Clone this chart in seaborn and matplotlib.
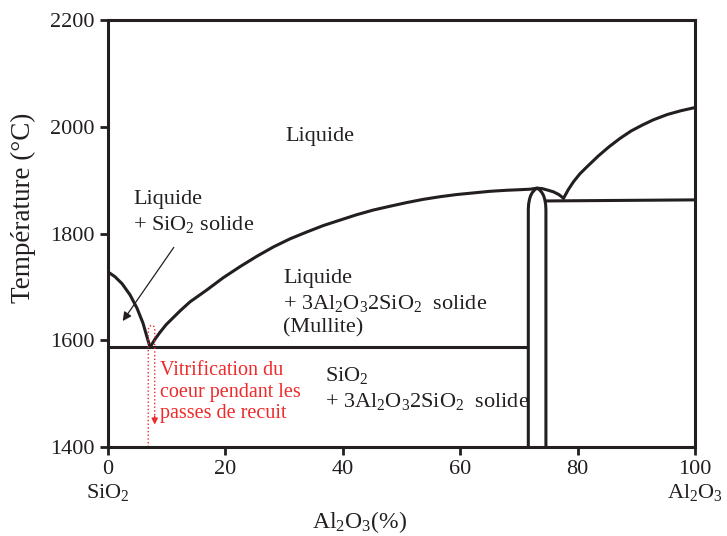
import seaborn as sns
import matplotlib.pyplot as plt
import pandas as pd
import numpy as np

# Diagramme de phase SiO2 - Al2O3
sio2_liq_x = [0.0, 1.19, 2.39, 3.75, 4.94, 5.96, 6.64, 7.16]
sio2_liq_t = [1728, 1719, 1706, 1685, 1660, 1632, 1606, 1587]

mullite_liq_x = [7.16, 8.0, 8.86, 9.88, 11.07, 12.27, 13.97, 16.8, 19.6, 22.5, 25.3, 28.2, 31.0,
                 33.9, 36.7, 39.5, 42.3, 45.2, 48.0, 50.9, 53.7, 56.6, 59.4, 62.2, 65.0, 67.9,
                 70.0, 71.9, 72.5, 73.1, 74.0, 75.0, 75.9, 76.8, 77.6]
mullite_liq_t = [1587, 1602, 1615, 1629, 1642, 1655, 1672, 1694, 1717, 1738, 1757, 1775, 1790,
                 1803, 1815, 1825, 1835, 1844, 1851, 1858, 1864, 1869, 1873, 1876, 1879, 1881,
                 1882, 1883, 1884, 1885, 1884, 1881, 1878, 1873, 1866]

alumina_liq_x = [77.6, 78.4, 79.3, 80.4, 81.6, 83.5, 85.3, 87.2, 89.1, 91.0, 92.9, 95.3, 97.6, 100.0]
alumina_liq_t = [1866, 1882, 1897, 1912, 1925, 1945, 1962, 1978, 1992, 2003, 2013, 2023, 2030, 2036]

eutectic_x = [0.0, 71.4]
eutectic_t = [1587, 1587]

high_eut_x = [74.6, 100.0]
high_eut_t = [1861, 1863]

mullite_ss_x = [71.6, 71.6, 71.65, 71.8, 72.0, 72.3, 72.7, 73.1, 73.5, 73.9, 74.2, 74.4, 74.55,
                74.6, 74.6]
mullite_ss_t = [1400, 1845, 1855, 1864, 1871, 1877, 1882, 1885, 1882, 1877, 1871, 1864, 1855,
                1845, 1400]

red_x = [6.85, 6.85, 7.0, 7.4, 7.8, 7.95, 7.95]
red_t = [1400, 1620, 1626, 1628, 1626, 1620, 1455]

x_ticks = [0, 20, 40, 60, 80, 100]
y_ticks = [1400, 1600, 1800, 2000, 2200]

sns.set_theme(style='ticks')
plt.rcParams['font.family'] = ['Liberation Serif', 'DejaVu Serif']
plt.rcParams['mathtext.fontset'] = 'custom'
plt.rcParams['mathtext.rm'] = 'Liberation Serif'
plt.rcParams['mathtext.it'] = 'Liberation Serif:italic'

INK = '#231f20'
RED = '#ee2a2a'

fig = plt.figure(figsize=(7.27, 5.36), dpi=100)
ax = fig.add_axes([0.1486, 0.166, 0.8074, 0.7967])

courbes = [
    (sio2_liq_x, sio2_liq_t),
    (mullite_liq_x, mullite_liq_t),
    (alumina_liq_x, alumina_liq_t),
    (eutectic_x, eutectic_t),
    (high_eut_x, high_eut_t),
    (mullite_ss_x, mullite_ss_t),
]
for xs, ts in courbes:
    df = pd.DataFrame({'x': xs, 't': ts})
    sns.lineplot(data=df, x='x', y='t', sort=False, estimator=None,
                 color=INK, lw=2.2, ax=ax)

# zone rouge en pointillés (vitrification)
df_red = pd.DataFrame({'x': red_x, 't': red_t})
sns.lineplot(data=df_red, x='x', y='t', sort=False, estimator=None,
             color=RED, lw=1.0, linestyle=':', ax=ax)
ax.annotate('', xy=(7.95, 1442), xytext=(7.95, 1458),
            arrowprops=dict(arrowstyle='-|>', color=RED, lw=1.0,
                            mutation_scale=9, shrinkA=0, shrinkB=0))

# flèche noire
ax.annotate('', xy=(2.5, 1636), xytext=(11.2, 1774),
            arrowprops=dict(arrowstyle='-|>', color=INK, lw=0.9,
                            mutation_scale=13, shrinkA=0, shrinkB=0))

fs = 16
ax.text(30.2, 1981, 'Liquide', fontsize=fs, va='center', color=INK)
ax.text(4.3, 1840, 'Liquide\n+ SiO$_2$ solide', fontsize=fs, va='center',
        color=INK, linespacing=1.3)
ax.text(29.8, 1670, 'Liquide\n+ 3Al$_2$O$_3$2SiO$_2$  solide\n(Mullite)', fontsize=fs,
        va='center', color=INK, linespacing=1.3)
ax.text(37.0, 1509, 'SiO$_2$\n+ 3Al$_2$O$_3$2SiO$_2$  solide', fontsize=fs,
        va='center', color=INK, linespacing=1.3)
ax.text(8.9, 1503, 'Vitrification du\ncoeur pendant les\npasses de recuit', fontsize=14.5,
        va='center', color=RED, linespacing=1.2)

ax.set_xlim(0, 100)
ax.set_ylim(1400, 2200)
ax.set_xticks(x_ticks)
ax.set_yticks(y_ticks)
ax.tick_params(direction='out', length=6, width=2, labelsize=16, colors=INK)
for s in ax.spines.values():
    s.set_linewidth(2.2)
    s.set_color(INK)

ax.set_xlabel('')
ax.set_ylabel('Température (°C)', fontsize=19.5, color=INK)
ax.yaxis.set_label_coords(-0.122, 0.56)
fig.text(0.1486, 0.082, 'SiO$_2$', fontsize=16, ha='center', va='center', color=INK)
fig.text(0.956, 0.082, 'Al$_2$O$_3$', fontsize=16, ha='center', va='center', color=INK)
fig.text(0.495, 0.026, 'Al$_2$O$_3$(%)', fontsize=17, ha='center', va='center', color=INK)

fig.savefig('out.png', dpi=100)
